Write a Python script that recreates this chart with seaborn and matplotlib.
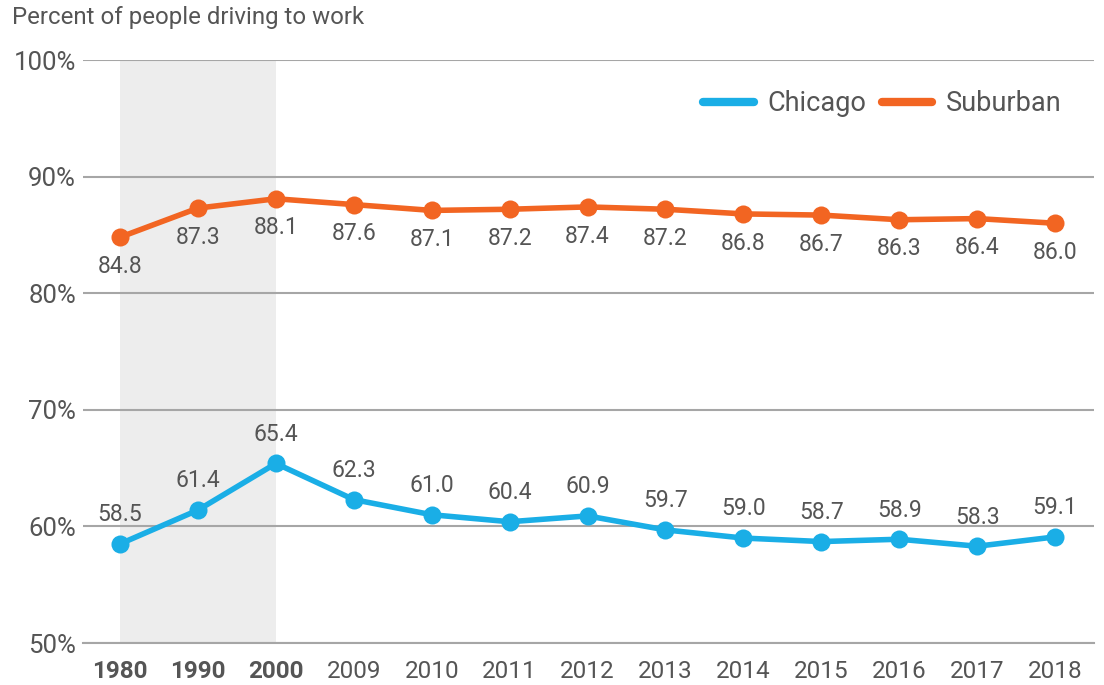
import pandas as pd
import matplotlib
matplotlib.use('Agg')
import matplotlib.pyplot as plt
import seaborn as sns

years = ['1980', '1990', '2000', '2009', '2010', '2011', '2012', '2013', '2014', '2015', '2016', '2017', '2018']
chicago = [58.5, 61.4, 65.4, 62.3, 61.0, 60.4, 60.9, 59.7, 59.0, 58.7, 58.9, 58.3, 59.1]
suburban = [84.8, 87.3, 88.1, 87.6, 87.1, 87.2, 87.4, 87.2, 86.8, 86.7, 86.3, 86.4, 86.0]
bold_years = ['1980', '1990', '2000']
y_ticks = [50, 60, 70, 80, 90, 100]

color_map = {'Chicago': '#1AAEE6', 'Suburban': '#F26522'}
text_color = '#555555'
grid_color = '#A6A6A6'

sns.set_style('white')
plt.rcParams['font.family'] = ['Roboto', 'DejaVu Sans']

n = len(years)
df = pd.DataFrame({
    'pos': list(range(n)) * 2,
    'value': chicago + suburban,
    'area': ['Chicago'] * n + ['Suburban'] * n,
})

fig = plt.figure(figsize=(11.04, 6.85), dpi=100)
ax = fig.add_axes([0.0752, 0.0613, 0.9158, 0.8511])

# shaded decade block
ax.axvspan(0, 2, color='#EDEDED', zorder=0, lw=0)

sns.lineplot(data=df, x='pos', y='value', hue='area', palette=color_map,
             marker='o', markersize=13, markeredgewidth=0, linewidth=4,
             ax=ax, legend=False, zorder=3)

# value labels: Chicago above, Suburban below
for i in range(n):
    ax.annotate(f'{chicago[i]:.1f}', (i, chicago[i]), xytext=(0, 21), textcoords='offset points',
                ha='center', va='center', fontsize=16.5, color=text_color)
    ax.annotate(f'{suburban[i]:.1f}', (i, suburban[i]), xytext=(0, -21), textcoords='offset points',
                ha='center', va='center', fontsize=16.5, color=text_color)

ax.set_xlim(-0.475, 12.5)
ax.set_ylim(50, 100)
ax.set_yticks(y_ticks)
ax.set_yticklabels([f'{t}%' for t in y_ticks], fontsize=18.5, color=text_color)
ax.set_xticks(range(n))
ax.set_xticklabels(years, fontsize=17.5, color=text_color)
for lbl in ax.get_xticklabels():
    if lbl.get_text() in bold_years:
        lbl.set_fontweight('bold')

ax.yaxis.grid(True, color=grid_color, linewidth=1.5)
ax.set_axisbelow(True)
for s in ['top', 'right', 'left']:
    ax.spines[s].set_visible(False)
ax.spines['bottom'].set_color(grid_color)
ax.spines['bottom'].set_linewidth(1.5)
ax.tick_params(axis='x', direction='in', length=13, width=1.5, color=grid_color, pad=12)
ax.tick_params(axis='y', length=0, pad=5)
ax.set_xlabel('')
ax.set_ylabel('')

# legend
handles = [plt.Line2D([], [], color=color_map[k], linewidth=6) for k in ['Chicago', 'Suburban']]
ax.legend(handles, ['Chicago', 'Suburban'], loc='center right', bbox_to_anchor=(0.992, 0.925),
          ncol=2, frameon=False, fontsize=19.5, labelcolor=text_color,
          handlelength=1.85, handletextpad=0.5, columnspacing=0.6)

fig.text(0.011, 0.975, 'Percent of people driving to work', fontsize=17.3, color=text_color,
         ha='left', va='center')

fig.savefig('out.png', dpi=100)
